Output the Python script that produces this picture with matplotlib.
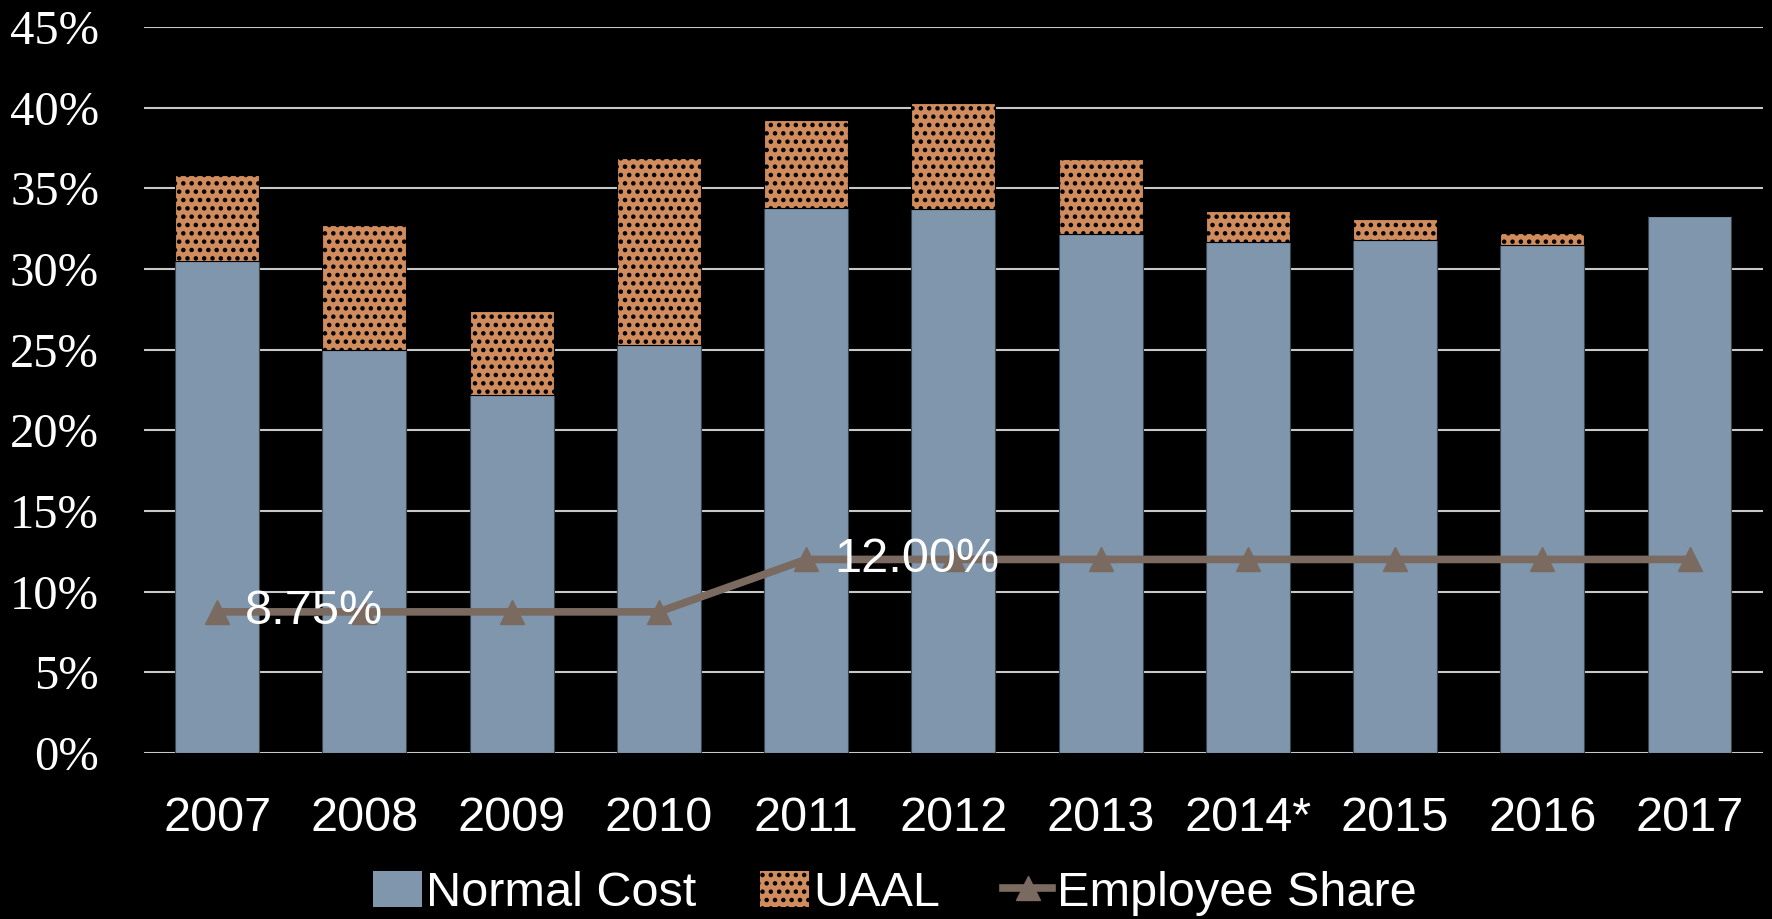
import matplotlib
matplotlib.use("Agg")
import matplotlib.pyplot as plt
from matplotlib.ticker import MultipleLocator, FuncFormatter
from matplotlib.patches import Patch
from matplotlib.lines import Line2D

years = ['2007', '2008', '2009', '2010', '2011', '2012', '2013', '2014*', '2015', '2016', '2017']
normal_cost = [30.5, 25.0, 22.2, 25.3, 33.8, 33.7, 32.2, 31.7, 31.8, 31.5, 33.3]
uaal = [5.3, 7.7, 5.2, 11.6, 5.45, 6.6, 4.6, 1.9, 1.3, 0.75, 0.0]
employee_share = [8.75, 8.75, 8.75, 8.75, 12.0, 12.0, 12.0, 12.0, 12.0, 12.0, 12.0]
share_labels = {0: '8.75%', 4: '12.00%'}

BLUE = '#7f96ad'
ORANGE = '#d08c5c'
LINE = '#7a6a60'
SANS = ['Liberation Sans', 'DejaVu Sans']
SERIF = ['Liberation Serif', 'DejaVu Serif']

plt.rcParams['font.family'] = SANS
plt.rcParams['hatch.linewidth'] = 2.0

fig = plt.figure(figsize=(17.72, 9.19), dpi=100, facecolor='black')
ax = fig.add_axes([0.081, 0.1806, 0.914, 0.7900], facecolor='black')

x = list(range(len(years)))
ax.bar(x, normal_cost, width=0.57, color=BLUE, edgecolor='#3a4550', linewidth=0.8, zorder=2)
ax.bar(x, uaal, width=0.57, bottom=normal_cost, color=ORANGE, edgecolor='black',
       linewidth=0.8, hatch='..', zorder=2)
ax.plot(x, employee_share, color=LINE, linewidth=5.5, marker='^', markersize=17, zorder=3)

for i, txt in share_labels.items():
    ax.annotate(txt, (x[i], employee_share[i]), xytext=(20, 0), textcoords='offset points',
                ha='left', va='center', color='white', fontsize=35, zorder=4)

ax.set_xlim(-0.5, len(years) - 0.5)
ax.set_ylim(0, 45)
ax.yaxis.set_major_locator(MultipleLocator(5))
ax.yaxis.set_major_formatter(FuncFormatter(lambda v, p: f'{v:.0f}%'))
ax.grid(axis='y', color='#c8c8c8', linewidth=1.5, zorder=0)
ax.set_axisbelow(True)

ax.set_xticks(x)
ax.set_xticklabels(years, color='white', fontsize=35)
for lab in ax.get_yticklabels():
    lab.set_family(SERIF)
    lab.set_fontsize(35)
    lab.set_color('white')
ax.tick_params(axis='x', length=0, pad=31)
ax.tick_params(axis='y', length=0, pad=32)
for s in ax.spines.values():
    s.set_visible(False)

handles = [Patch(facecolor=BLUE, edgecolor='none'),
           Patch(facecolor=ORANGE, edgecolor='black', hatch='..', linewidth=0),
           Line2D([], [], color=LINE, linewidth=5.5, marker='^', markersize=17)]
leg = fig.legend(handles, ['Normal Cost', 'UAAL', 'Employee Share'], loc='center',
                 bbox_to_anchor=(0.505, 0.028), ncol=3, frameon=False, fontsize=35,
                 labelcolor='white', handlelength=1.0, handleheight=0.75,
                 handletextpad=0.1, columnspacing=1.3)

fig.savefig('out.png', dpi=100, facecolor='black')
